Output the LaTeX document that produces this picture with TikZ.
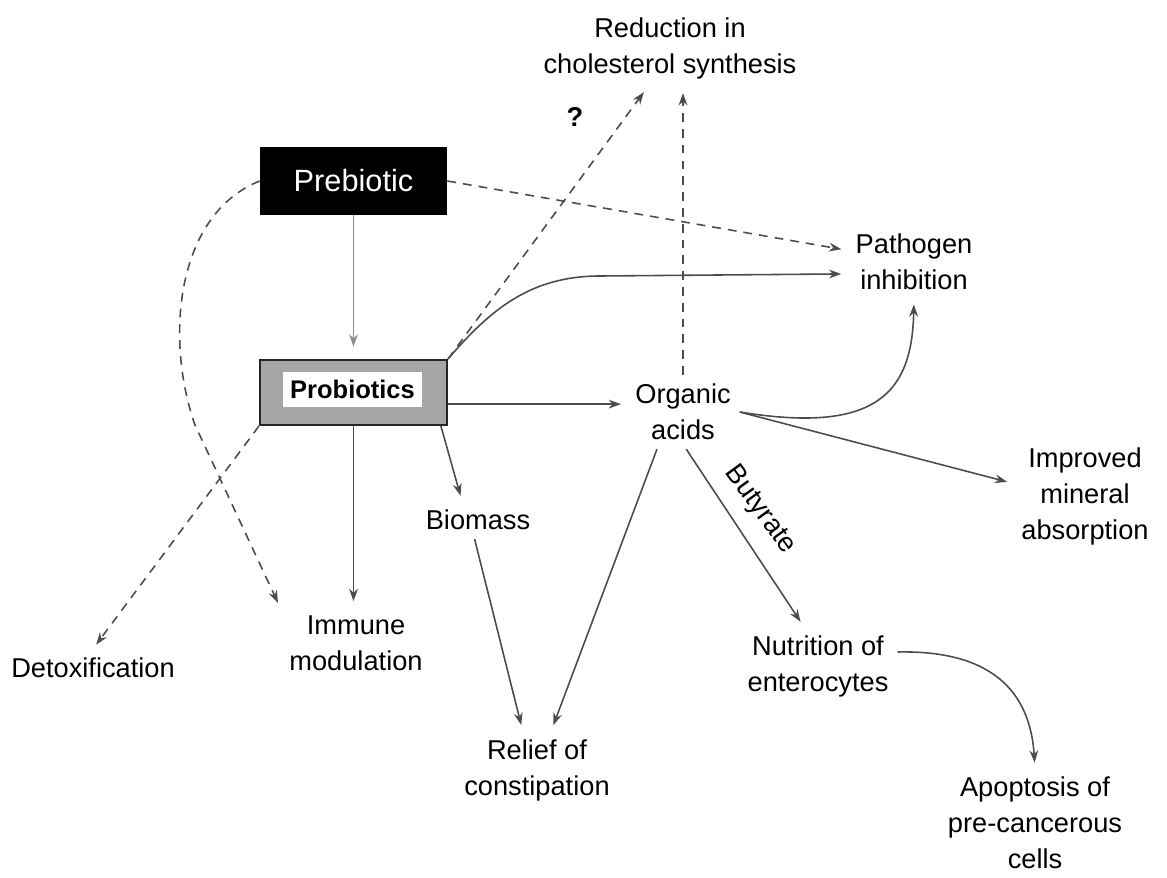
\documentclass[tikz,border=0pt]{standalone}
\usepackage{fontspec}
\setmainfont{Liberation Sans}
\usetikzlibrary{arrows.meta}

\begin{document}
\begin{tikzpicture}[
  x=0.02cm, y=-0.02cm,
  every node/.style={align=center, inner sep=5pt,
                     font=\fontsize{15.5}{20.5}\selectfont},
  arr/.style={draw=black!70, line width=0.9pt, shorten >=3pt,
              -{Stealth[length=7pt,width=5pt]}},
  dsh/.style={arr, dash pattern=on 5pt off 4pt},
  box/.style={minimum width=3.74cm, minimum height=1.36cm},
]
\useasboundingbox (0,0) rectangle (1167,877);

\node[box, fill=black, text=white, font=\fontsize{17.5}{21}\selectfont] (pre) at (353.5,181) {Prebiotic};
\node[box, minimum height=1.3cm, draw=black!85, line width=1.2pt, fill=black!35] (pro) at (353.5,392.5) {};
\node[fill=white, minimum width=2.78cm, minimum height=0.7cm, inner sep=0pt,
      font=\bfseries\fontsize{14.5}{18}\selectfont] (protxt) at (352.5,389.5) {Probiotics};

\node (red) at (670,48) {Reduction in\\cholesterol synthesis};
\node[font=\bfseries\fontsize{15.5}{20.5}\selectfont] (q) at (575,117) {?};
\node (patho) at (914,262) {Pathogen\\inhibition};
\node (acids) at (683,412) {Organic\\acids};
\node (imp) at (1085,496) {Improved\\mineral\\absorption};
\node (bio) at (478,520) {Biomass};
\node (detox) at (93,668) {Detoxification};
\node (imm) at (356,643) {Immune\\modulation};
\node (nut) at (818,666) {Nutrition of\\enterocytes};
\node (rel) at (537,770) {Relief of\\constipation};
\node (apo) at (1035,823) {Apoptosis of\\pre-cancerous\\cells};
\node[rotate=-54] (but) at (760,510) {Butyrate};

\draw[arr, draw=black!45, shorten >=7pt] (pre) -- (pro);
\draw[dsh] (pre.east) -- (patho.170);
\draw[dsh] (pre.west) .. controls (175,215) and (165,340) .. (195,425) -- (imm.155);
\draw[dsh] (pro.north east) -- (red.-120);
\draw[arr] (pro.north east) .. controls (490,310) and (530,276) .. (600,276) -- (patho.-170);
\draw[arr] (pro.-7) -- (pro.-7 -| acids.west);
\draw[arr] (pro.south) -- (pro.south |- imm.north);
\draw[dsh] (pro.south west) -- (detox.north);
\draw[arr] (pro.-21) -- (bio.130);
\draw[arr] (bio.-100) -- (rel.110);
\draw[arr] (acids.-125) -- (rel.70);
\draw[arr] (acids.-85) -- (nut.110);
\draw[arr] (acids.east) .. controls (880,435) and (912,390) .. (patho.south);
\draw[arr] (acids.east) -- (imp.170);
\draw[dsh] (acids.north) -- (acids.north |- red.south);
\draw[arr] (nut.10) .. controls (990,650) and (1030,690) .. (apo.north);
\end{tikzpicture}
\end{document}
